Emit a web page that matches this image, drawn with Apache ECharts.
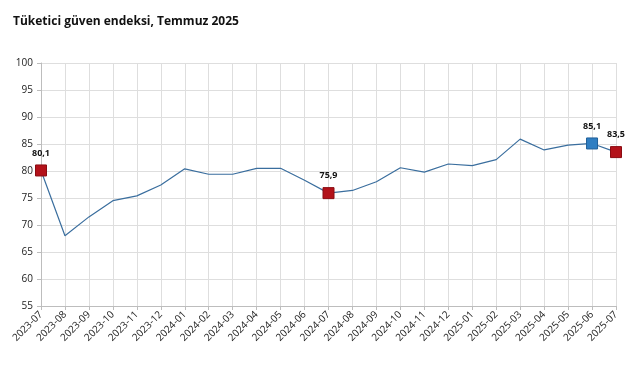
<!DOCTYPE html>
<html><head><meta charset="utf-8">
<script src="https://cdn.jsdelivr.net/npm/echarts@6/dist/echarts.min.js"></script>
<style>html,body{margin:0;padding:0;background:#fff}#c{width:641px;height:380px}</style>
</head><body><div id="c"></div>
<script>
const categories = ['2023-07','2023-08','2023-09','2023-10','2023-11','2023-12','2024-01','2024-02','2024-03','2024-04','2024-05','2024-06','2024-07','2024-08','2024-09','2024-10','2024-11','2024-12','2025-01','2025-02','2025-03','2025-04','2025-05','2025-06','2025-07'];
const values = [80.1,68.0,71.5,74.5,75.4,77.4,80.4,79.4,79.4,80.5,80.5,78.3,75.9,76.4,78.0,80.6,79.8,81.3,81.0,82.1,85.9,83.9,84.8,85.1,83.5];
const redIdx = [0,12,24];
const blueIdx = [23];
const yTicks = {min:55,max:100,interval:5};

const data = values.map((v,i)=>{
  const o = {value:v};
  if (redIdx.includes(i) || blueIdx.includes(i)) {
    const red = redIdx.includes(i);
    o.symbol='rect'; o.symbolSize=11;
    o.itemStyle={color: red?'#b3121a':'#2f7ec2', borderColor: red?'#8a0c12':'#1f5f99', borderWidth:1};
    o.label={show:true, position:'top', distance:7, formatter: v.toFixed(1).replace('.',','), fontSize:9, fontWeight:'bold', color:'#111', fontFamily:'Open Sans'};
  } else { o.symbol='none'; }
  return o;
});

const chart = echarts.init(document.getElementById('c'));
chart.setOption({
  animation:false,
  title:{text:'Tüketici güven endeksi, Temmuz 2025', left:13, top:16, padding:0, textStyle:{fontSize:12, fontWeight:'bold', color:'#111', fontFamily:'Open Sans'}},
  grid:{left:41, right:25, top:63, bottom:74},
  xAxis:{type:'category', data:categories, boundaryGap:false,
    axisLine:{lineStyle:{color:'#bdbdbd'}}, axisTick:{show:true, lineStyle:{color:'#bdbdbd'}, length:4},
    splitLine:{show:true, lineStyle:{color:'#dedede'}},
    axisLabel:{rotate:45, fontSize:10, color:'#222', fontFamily:'Open Sans', interval:0, margin:7}},
  yAxis:{type:'value', min:yTicks.min, max:yTicks.max, interval:yTicks.interval,
    axisLine:{show:true, lineStyle:{color:'#bdbdbd'}}, axisTick:{show:true, lineStyle:{color:'#bdbdbd'}, length:4},
    splitLine:{lineStyle:{color:'#dedede'}},
    axisLabel:{fontSize:10, color:'#222', fontFamily:'Open Sans', margin:8}},
  series:[{type:'line', data:data, lineStyle:{color:'#3a6e9e', width:1.2}, showSymbol:true, z:3}]
});
</script></body></html>
